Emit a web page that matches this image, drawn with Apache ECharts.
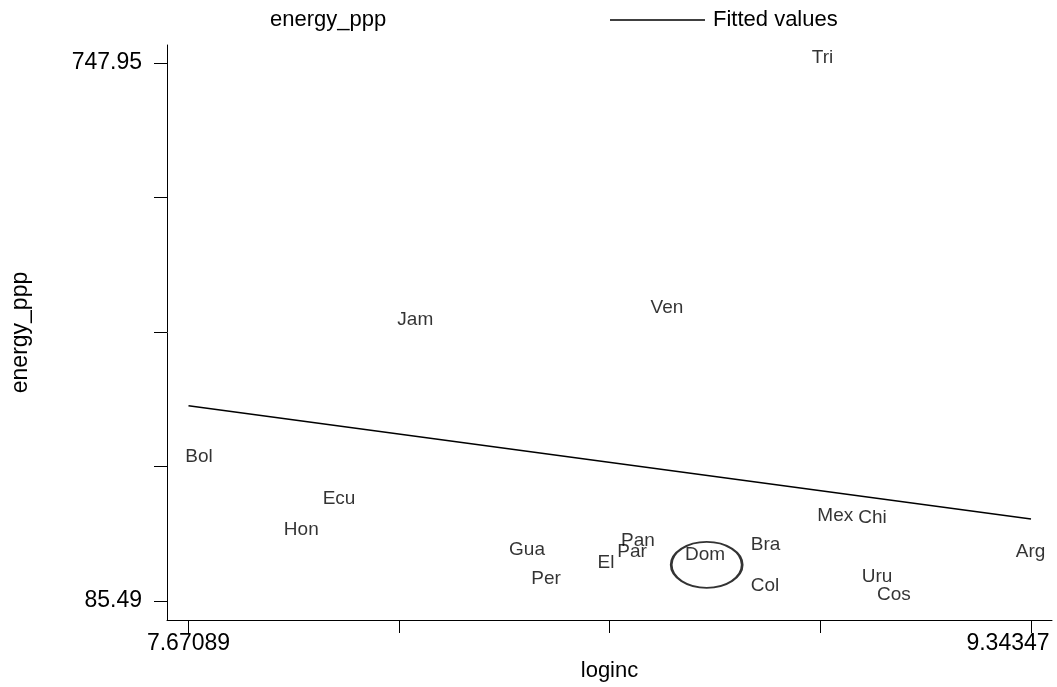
<!DOCTYPE html>
<html>
<head>
<meta charset="utf-8">
<title>energy_ppp vs loginc</title>
<script src="https://cdn.jsdelivr.net/npm/echarts@6/dist/echarts.min.js"></script>
<style>
  html, body { margin: 0; padding: 0; background: #fff; }
  #chart { width: 1057px; height: 687px; }
</style>
</head>
<body>
<div id="chart"></div>
<script>
// Country marker labels and their coordinates (log income, energy per PPP)
const countries = ['Bol', 'Ecu', 'Hon', 'Jam', 'Gua', 'Per', 'El', 'Par', 'Pan', 'Ven',
                   'Dom', 'Bra', 'Col', 'Tri', 'Mex', 'Chi', 'Uru', 'Cos', 'Arg'];
const loginc = [7.69174, 7.96967, 7.89483, 8.12115, 8.34290, 8.38062, 8.49974, 8.55135, 8.56326, 8.62084,
                8.69628, 8.81638, 8.81538, 8.92954, 8.95496, 9.02881, 9.03774, 9.07109, 9.34248];
const energyPpp = [262.80, 211.46, 173.53, 431.87, 148.66, 112.95, 132.28, 145.83, 159.99, 446.27,
                   142.50, 154.44, 104.58, 754.35, 190.40, 187.94, 114.80, 92.88, 145.83];

// Fitted values line (endpoints over the observed loginc range)
const fittedX = [7.67089, 9.34347];
const fittedY = [325.97, 186.46];

// Highlight ring drawn around the Dominican Republic label
const highlight = [8.69965, 130.06];

// Axis ticks and labels
const xTicks = [7.67089, 8.089035, 8.50718, 8.925325, 9.34347];
const xTickLabels = ['7.67089', '9.34347'];
const yTicks = [85.49, 251.105, 416.72, 582.335, 747.95];
const yTickLabels = ['85.49', '747.95'];

const FONT = 'Liberation Sans, Arial, Helvetica, sans-serif';

const scatterData = countries.map((c, i) => [loginc[i], energyPpp[i], c]);
const fittedData = fittedX.map((x, i) => [x, fittedY[i]]);

function near(a, b) {
  return Math.abs(a - b) < 1e-6 * Math.max(1, Math.abs(b));
}

function tickLabel(v, ticks, labels) {
  if (near(v, ticks[0])) return labels[0];
  if (near(v, ticks[ticks.length - 1])) return labels[1];
  return '';
}

const tickFont = { fontFamily: FONT, fontSize: 23, color: '#000' };

const chart = echarts.init(document.getElementById('chart'), null, { renderer: 'canvas' });

chart.setOption({
  backgroundColor: '#ffffff',
  animation: false,
  textStyle: { fontFamily: FONT, color: '#000' },
  legend: [
    {
      data: [{ name: 'energy_ppp', icon: 'none' }],
      left: 240,
      top: 9,
      padding: 0,
      itemWidth: 25,
      itemHeight: 14,
      selectedMode: false,
      textStyle: { fontFamily: FONT, fontSize: 22, color: '#000' }
    },
    {
      data: [{ name: 'Fitted values', icon: 'rect', itemStyle: { color: '#000' } }],
      left: 610,
      top: 9,
      padding: 0,
      itemWidth: 95,
      itemHeight: 1.5,
      selectedMode: false,
      textStyle: { fontFamily: FONT, fontSize: 22, color: '#000', padding: [0, 0, 0, 3] }
    }
  ],
  grid: {
    left: 167,
    right: 5,
    top: 45,
    bottom: 67,
    containLabel: false,
    outerBoundsMode: 'none'
  },
  xAxis: {
    type: 'value',
    min: 7.62821,
    max: 9.38516,
    name: 'loginc',
    nameLocation: 'middle',
    nameGap: 33,
    nameTextStyle: { fontFamily: FONT, fontSize: 22, color: '#000' },
    axisLine: { show: true, lineStyle: { color: '#000', width: 1 } },
    axisTick: {
      show: true,
      length: 13,
      customValues: xTicks,
      lineStyle: { color: '#000', width: 1 }
    },
    axisLabel: {
      show: true,
      margin: 12,
      fontFamily: FONT,
      fontSize: 23,
      color: '#000',
      hideOverlap: false,
      customValues: [xTicks[0], xTicks[xTicks.length - 1]],
      // the last label is pulled inward so it stays within the page
      formatter: v => near(v, xTicks[xTicks.length - 1])
        ? '{last|' + xTickLabels[1] + '}'
        : tickLabel(v, xTicks, xTickLabels),
      rich: {
        last: Object.assign({ padding: [0, 46, 0, 0] }, tickFont)
      }
    },
    splitLine: { show: false }
  },
  yAxis: {
    type: 'value',
    min: 62.095,
    max: 770.11,
    name: 'energy_ppp',
    nameLocation: 'middle',
    nameGap: 135,
    nameTextStyle: { fontFamily: FONT, fontSize: 23, color: '#000' },
    axisLine: { show: true, lineStyle: { color: '#000', width: 1 } },
    axisTick: {
      show: true,
      length: 13,
      customValues: yTicks,
      lineStyle: { color: '#000', width: 1 }
    },
    axisLabel: {
      show: true,
      margin: 25,
      fontFamily: FONT,
      fontSize: 23,
      color: '#000',
      customValues: [yTicks[0], yTicks[yTicks.length - 1]],
      formatter: v => tickLabel(v, yTicks, yTickLabels)
    },
    splitLine: { show: false }
  },
  series: [
    {
      name: 'energy_ppp',
      type: 'scatter',
      data: scatterData,
      symbolSize: 1,
      itemStyle: { color: 'rgba(0,0,0,0)' },
      label: {
        show: true,
        position: 'inside',
        formatter: p => p.data[2],
        fontFamily: FONT,
        fontSize: 19,
        color: '#000'
      },
      emphasis: { disabled: true },
      z: 3
    },
    {
      name: 'Fitted values',
      type: 'line',
      data: fittedData,
      symbol: 'none',
      itemStyle: { color: '#000' },
      lineStyle: { color: '#000', width: 1.5 },
      emphasis: { disabled: true },
      z: 2
    },
    {
      name: 'ring',
      type: 'scatter',
      data: [highlight],
      symbol: 'path://M0,23 A35.5,23 0 1,1 71,23 A35.5,23 0 1,1 0,23 Z',
      symbolSize: [71, 46],
      itemStyle: { color: 'rgba(0,0,0,0)', borderColor: '#000', borderWidth: 2.2 },
      emphasis: { disabled: true },
      z: 2
    }
  ]
});
</script>
</body>
</html>
